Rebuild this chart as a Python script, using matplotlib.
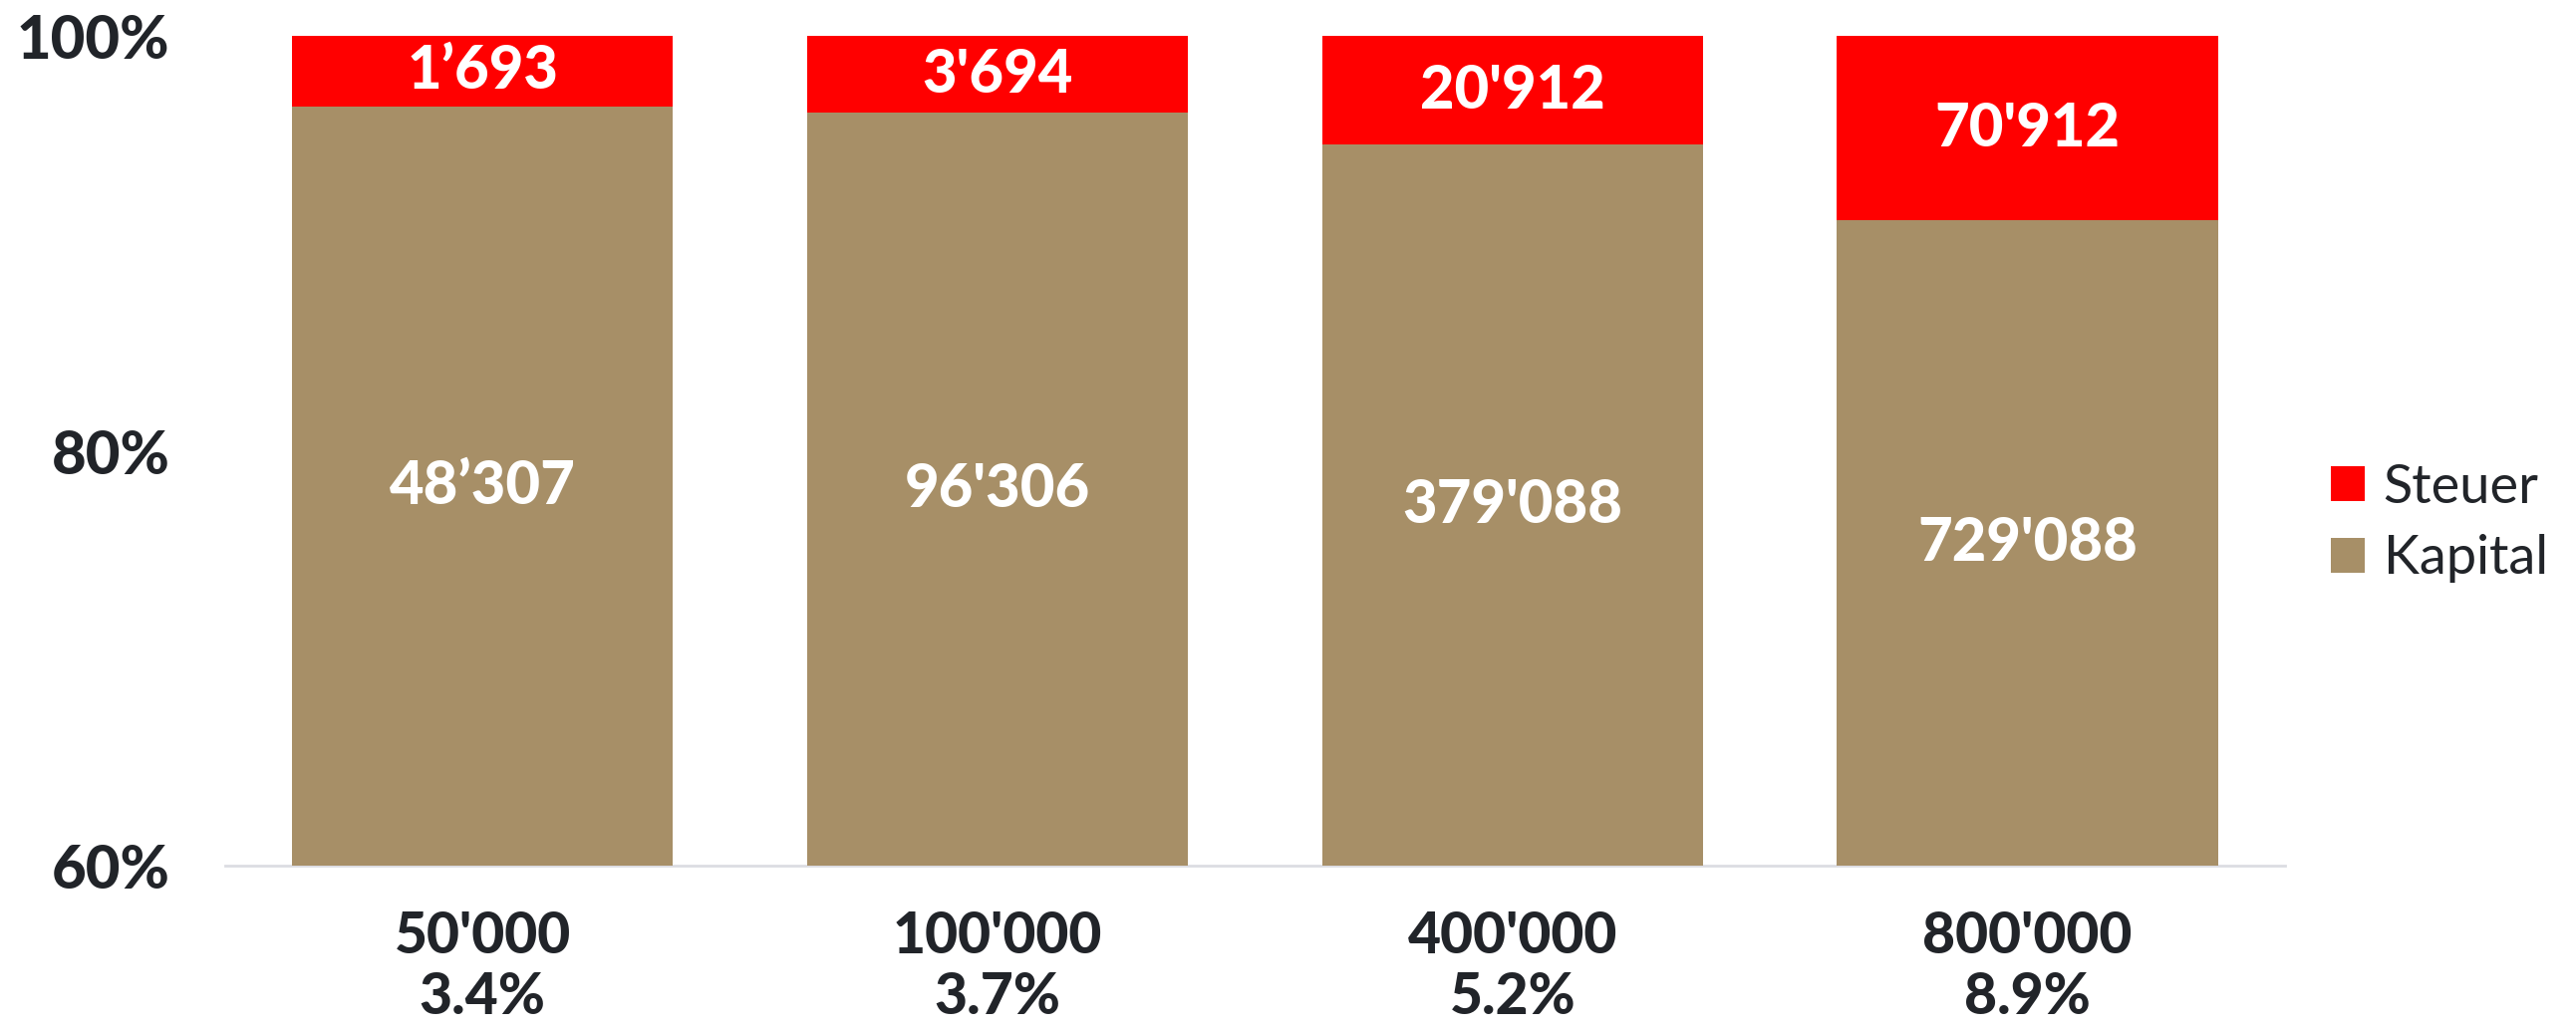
import matplotlib.pyplot as plt
from matplotlib.ticker import FixedLocator

amounts = ["50'000", "100'000", "400'000", "800'000"]
rates = ["3.4%", "3.7%", "5.2%", "8.9%"]
kapital = [48307, 96306, 379088, 729088]
steuer = [1693, 3694, 20912, 70912]
kapital_labels = ["48’307", "96'306", "379'088", "729'088"]
steuer_labels = ["1’693", "3'694", "20'912", "70'912"]
y_ticks = [60, 80, 100]

RED = '#ff0000'
BROWN = '#a78f67'
DARK = '#212429'

plt.rcParams['font.family'] = ['Lato', 'DejaVu Sans']

fig = plt.figure(figsize=(25.85, 10.35), dpi=100)
ax = fig.add_axes([0.0874, 0.160, 0.7996, 0.805])

totals = [k + s for k, s in zip(kapital, steuer)]
kap_pct = [100 * k / t for k, t in zip(kapital, totals)]
st_pct = [100 * s / t for s, t in zip(steuer, totals)]
x = list(range(len(amounts)))

ax.bar(x, kap_pct, width=0.74, color=BROWN, label='Kapital', zorder=2)
ax.bar(x, st_pct, width=0.74, bottom=kap_pct, color=RED, label='Steuer', zorder=2)

for i in x:
    ax.text(i, (60 + kap_pct[i]) / 2, kapital_labels[i], ha='center', va='center',
            color='white', fontsize=43, fontweight='black')
    ax.text(i, kap_pct[i] + st_pct[i] / 2, steuer_labels[i], ha='center', va='center',
            color='white', fontsize=43, fontweight='black')

ax.set_xlim(-0.5, 3.5)
ax.set_ylim(60, 100)
ax.yaxis.set_major_locator(FixedLocator(y_ticks))
ax.set_yticklabels([f"{v}%" for v in y_ticks], fontsize=43, fontweight='black', color=DARK)
ax.set_xticks(x)
ax.set_xticklabels([f"{a}\n{r}" for a, r in zip(amounts, rates)], fontsize=41,
                   fontweight='black', color=DARK, linespacing=1.2)
ax.tick_params(axis='both', length=0)
ax.tick_params(axis='y', pad=40)
ax.tick_params(axis='x', pad=32)

for side in ['top', 'right', 'left']:
    ax.spines[side].set_visible(False)
ax.spines['bottom'].set_color('#dcdde2')
ax.spines['bottom'].set_linewidth(2)
ax.spines['bottom'].set_zorder(1)

handles, labels = ax.get_legend_handles_labels()
fig.legend(handles[::-1], labels[::-1], loc='center left',
           bbox_to_anchor=(2312 / 2585, 1 - 525 / 1035), frameon=False,
           fontsize=39, handlelength=0.62, handleheight=0.62, handletextpad=0.35,
           labelspacing=0.42, borderpad=0, labelcolor=DARK)

plt.savefig('out.png', dpi=100)
